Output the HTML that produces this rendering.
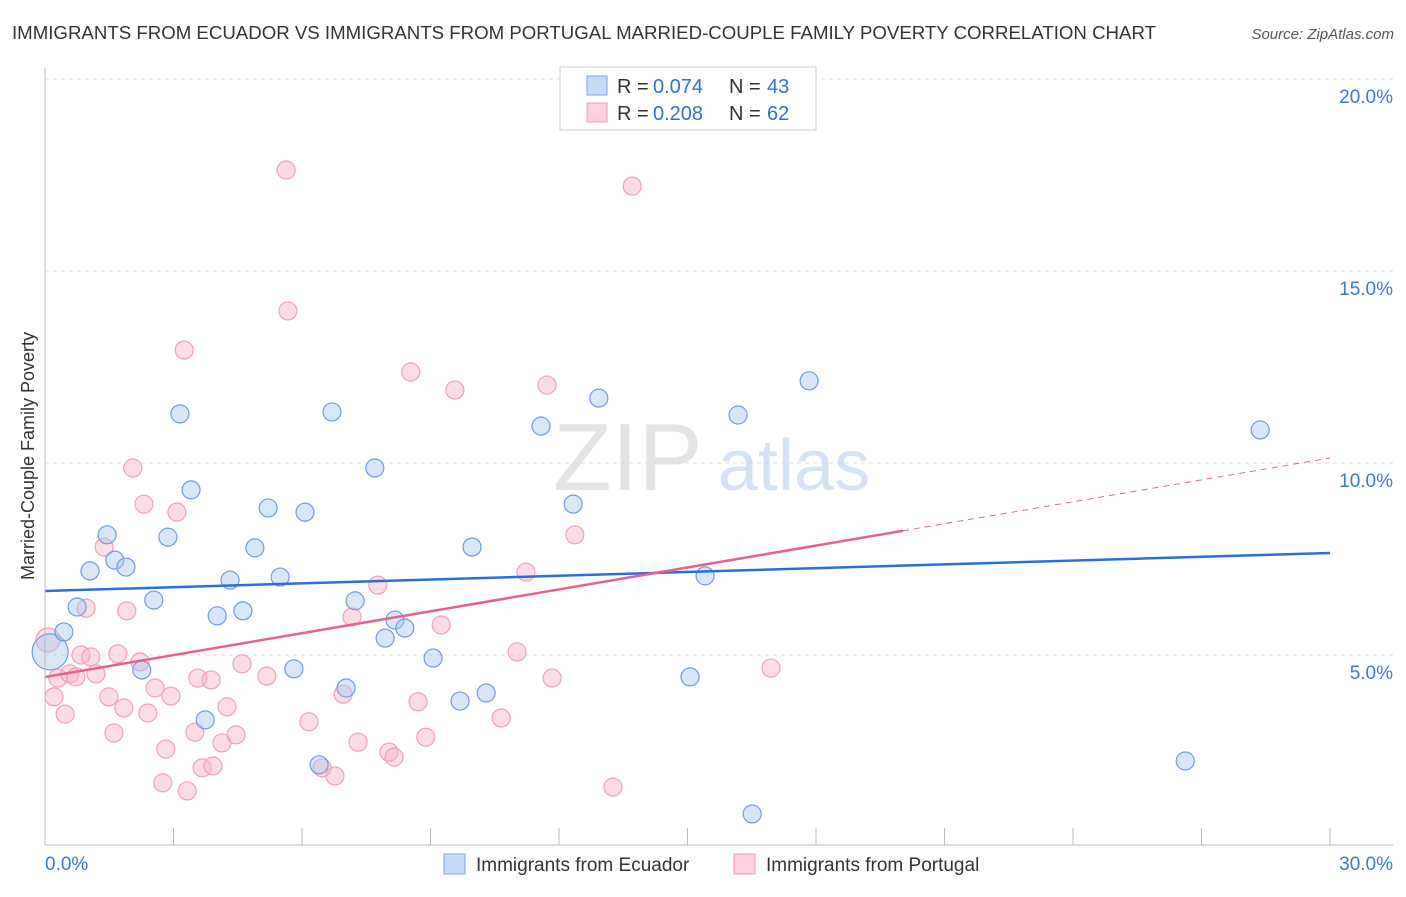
<!DOCTYPE html>
<html><head><meta charset="utf-8"><style>
body{margin:0;background:#fff;font-family:"Liberation Sans",sans-serif}
svg text{font-family:"Liberation Sans",sans-serif}
</style></head><body>
<svg id="chart" width="1406" height="892" xmlns="http://www.w3.org/2000/svg">
<text x="12" y="39" font-size="18" fill="#333" textLength="1144" lengthAdjust="spacingAndGlyphs">IMMIGRANTS FROM ECUADOR VS IMMIGRANTS FROM PORTUGAL MARRIED-COUPLE FAMILY POVERTY CORRELATION CHART</text>
<text x="1394" y="39" font-size="15" fill="#555" text-anchor="end" font-style="italic">Source: ZipAtlas.com</text>
<text transform="translate(34,456) rotate(-90)" font-size="18" fill="#333" text-anchor="middle">Married-Couple Family Poverty</text>
<g id="grid"></g>
<text x="553" y="490" font-size="96" fill="#d8d8d8" font-family="Liberation Serif" opacity="0.7">ZIP</text>
<text x="718" y="490" font-size="72" fill="#b8d0ee" opacity="0.6">atlas</text>
<g id="marks"></g>
<g id="lines"></g>
<g id="axes"></g>
<g>
<rect x="560" y="67" width="256" height="63" fill="#fff" stroke="#ccc"/>
<rect x="587" y="76" width="20" height="19" fill="#c6dbf7" stroke="#7ea6e0"/>
<rect x="587" y="103" width="20" height="19" fill="#fcd0dc" stroke="#f19ab5"/>
<text x="617" y="93" font-size="20" fill="#333">R =</text>
<text x="653" y="93" font-size="20" fill="#2f6fd6">0.074</text>
<text x="729" y="93" font-size="20" fill="#333">N =</text>
<text x="767" y="93" font-size="20" fill="#2f6fd6">43</text>
<text x="617" y="120" font-size="20" fill="#333">R =</text>
<text x="653" y="120" font-size="20" fill="#2f6fd6">0.208</text>
<text x="729" y="120" font-size="20" fill="#333">N =</text>
<text x="767" y="120" font-size="20" fill="#2f6fd6">62</text>
</g>
<g>
<rect x="444" y="854" width="21" height="20" fill="#c6dbf7" stroke="#7ea6e0"/>
<text x="476" y="871" font-size="19" fill="#333">Immigrants from Ecuador</text>
<rect x="734" y="854" width="21" height="20" fill="#fcd0dc" stroke="#f19ab5"/>
<text x="766" y="871" font-size="19" fill="#333">Immigrants from Portugal</text>
</g>
</svg>
<script>
const blueX=[0.12,0.44,0.75,1.05,1.45,1.63,1.89,2.26,2.54,2.87,3.15,3.41,3.74,4.02,4.32,4.62,4.90,5.21,5.49,5.81,6.07,6.40,6.70,7.03,7.24,7.70,7.94,8.17,8.40,9.06,9.69,9.97,10.30,11.58,12.33,12.93,15.06,15.41,16.18,16.51,17.84,26.62,28.37];
const blueY=[5.08,5.60,6.25,7.19,8.13,7.47,7.29,4.61,6.43,8.07,11.28,9.30,3.31,6.02,6.95,6.15,7.79,8.83,7.03,4.64,8.72,2.14,11.33,4.14,6.41,9.87,5.44,5.91,5.70,4.92,3.80,7.81,4.01,10.96,8.93,11.69,4.43,7.06,11.25,0.86,12.14,2.24,10.86];
const pinkX=[0.07,0.21,0.30,0.47,0.58,0.72,0.96,0.84,1.07,1.19,1.38,1.49,1.61,1.70,1.84,1.91,2.05,2.22,2.31,2.40,2.57,2.75,2.82,2.94,3.08,3.25,3.32,3.50,3.57,3.67,3.88,3.92,4.13,4.25,4.46,4.60,5.18,5.63,5.67,6.16,6.47,6.77,6.96,7.17,7.31,7.77,8.03,8.15,8.54,8.71,8.89,9.25,9.57,10.65,11.02,11.23,11.72,11.84,12.37,13.26,13.71,16.95];
const pinkY=[5.39,3.91,4.40,3.46,4.51,4.43,6.22,5.00,4.95,4.51,7.81,3.91,2.97,5.03,3.62,6.15,9.87,4.82,8.93,3.49,4.14,1.67,2.55,3.93,8.72,12.94,1.46,2.99,4.40,2.06,4.35,2.11,2.71,3.65,2.92,4.77,4.45,17.63,13.96,3.26,2.06,1.85,3.98,5.99,2.73,6.82,2.47,2.34,12.37,3.78,2.86,5.78,11.90,3.36,5.08,7.16,12.03,4.40,8.13,1.56,17.21,4.66];
const yTicks=[5,10,15,20];
const yTickLabels=["5.0%","10.0%","15.0%","20.0%"];
const xTicks=[0,3,6,9,12,15,18,21,24,27,30];
const blueTrend=[6.667,7.656];
const pinkTrend=[4.427,10.13];
const pinkSolidEnd=20.03;
const NS="http://www.w3.org/2000/svg";
const X=v=>45+v/30*1285, Y=v=>847-v/5*192;
function mk(t,a,p){const e=document.createElementNS(NS,t);for(const k in a)e.setAttribute(k,a[k]);document.getElementById(p).appendChild(e);return e;}
yTicks.forEach((t,i)=>{
 const g=mk('line',{x1:45,x2:1393,y1:Y(t),y2:Y(t),stroke:'#ddd','stroke-dasharray':'4,4'},'grid');
 
 
 const l=mk('text',{x:1393,y:Y(t)+24,'font-size':19,fill:'#3a78d4','text-anchor':'end'},'axes');
 l.textContent=yTickLabels[i];
 
 
});
let ax=mk('line',{x1:45,x2:45,y1:68,y2:845,stroke:'#bbb'},'axes');


ax=mk('line',{x1:45,x2:1393,y1:845,y2:845,stroke:'#bbb'},'axes');


xTicks.forEach(t=>{const e=mk('line',{x1:X(t),x2:X(t),y1:828,y2:845,stroke:'#bbb'},'axes');
 
 });
let xl=mk('text',{x:45,y:870,'font-size':19,fill:'#3a78d4'},'axes');xl.textContent='0.0%';


xl=mk('text',{x:1393,y:870,'font-size':19,fill:'#3a78d4','text-anchor':'end'},'axes');xl.textContent='30.0%';


pinkX.forEach((x,i)=>{const c=mk('circle',{cx:X(x),cy:Y(pinkY[i]),r:i==0?12:9,fill:'rgba(248,180,200,0.45)',stroke:'#f0a0bb','stroke-width':1.2},'marks');
 
 });
blueX.forEach((x,i)=>{const c=mk('circle',{cx:X(x),cy:Y(blueY[i]),r:i==0?18:9,fill:'rgba(170,200,240,0.45)',stroke:'#6f9be0','stroke-width':1.2},'marks');
 
 });
let tl=mk('line',{x1:X(0),x2:X(30),y1:Y(blueTrend[0]),y2:Y(blueTrend[1]),stroke:'#2a6fd6','stroke-width':2.5},'lines');


const pm=pinkTrend[0]+(pinkTrend[1]-pinkTrend[0])*pinkSolidEnd/30;
tl=mk('line',{x1:X(0),x2:X(pinkSolidEnd),y1:Y(pinkTrend[0]),y2:Y(pm),stroke:'#e8608c','stroke-width':2.5},'lines');


tl=mk('line',{x1:X(pinkSolidEnd),x2:X(30),y1:Y(pm),y2:Y(pinkTrend[1]),stroke:'#e8608c','stroke-width':1,'stroke-dasharray':'6,5'},'lines');


</script>
</body></html>
